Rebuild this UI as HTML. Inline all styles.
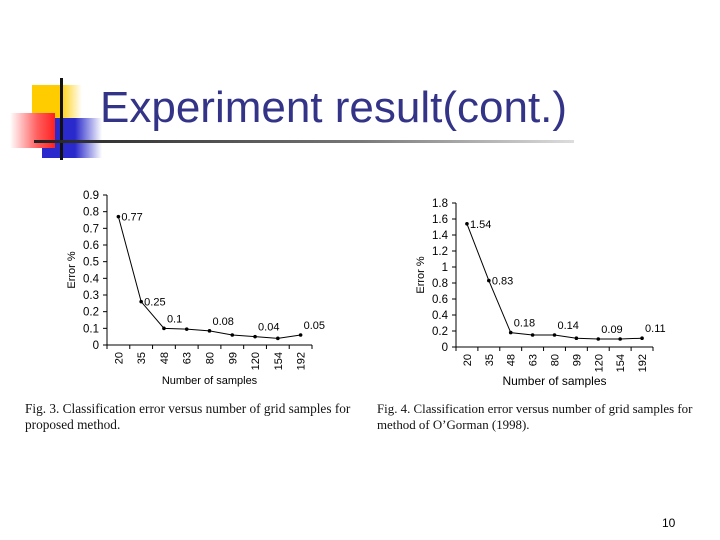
<!DOCTYPE html>
<html><head><meta charset="utf-8"><style>
body{margin:0;background:#fff;width:720px;height:540px;overflow:hidden;position:relative;font-family:"Liberation Sans",sans-serif}
.abs{position:absolute}
.cap{position:absolute;font-family:"Liberation Serif",serif;font-size:13.3px;line-height:16px;color:#111;white-space:nowrap}
</style></head><body>
<div class="abs" style="left:32px;top:85px;width:50px;height:33px;background:linear-gradient(90deg,#ffcc00 55%,#fff)"></div>
<div class="abs" style="left:42px;top:118px;width:60px;height:40px;background:linear-gradient(90deg,#2a2acc 55%,#fff)"></div>
<div class="abs" style="left:10px;top:113px;width:45px;height:35px;background:linear-gradient(90deg,#fff,#ff6060 60%,#ff2020)"></div>
<div class="abs" style="left:60px;top:78px;width:3px;height:82px;background:#111"></div>
<div class="abs" style="left:34px;top:140px;width:540px;height:3px;background:linear-gradient(90deg,#222,#777 60%,#ddd)"></div>
<div class="abs" style="left:100px;top:83px;font-size:44px;color:#333388;white-space:nowrap">Experiment result(cont.)</div>
<svg class="abs" style="left:0;top:0" width="720" height="540" id="svg"></svg>
<div class="cap" style="left:25px;top:401px">Fig. 3. Classification error versus number of grid samples for<br>proposed method.</div>
<div class="cap" style="left:377px;top:401px;font-size:12.9px">Fig. 4. Classification error versus number of grid samples for<br>method of O’Gorman (1998).</div>
<div class="abs" style="left:662px;top:516px;font-size:12px">10</div>
<script>
const categories=["20","35","48","63","80","99","120","154","192"];
const leftValues=[0.77,0.26,0.10,0.095,0.085,0.06,0.05,0.04,0.06];
const leftLabels=["0.77","0.25","0.1","","0.08","","0.04","","0.05"];
const leftTicks=[0,0.1,0.2,0.3,0.4,0.5,0.6,0.7,0.8,0.9];
const rightValues=[1.54,0.83,0.18,0.15,0.15,0.11,0.10,0.10,0.11];
const rightLabels=["1.54","0.83","0.18","","0.14","","0.09","","0.11"];
const rightTicks=[0,0.2,0.4,0.6,0.8,1,1.2,1.4,1.6,1.8];
const svg=document.getElementById('svg');
const NS="http://www.w3.org/2000/svg";
function mk(t,a,txt){const e=document.createElementNS(NS,t);for(const k in a)e.setAttribute(k,a[k]);if(txt!==undefined)e.textContent=txt;svg.appendChild(e);return e;}
function chart(o){
  const x0=o.x0,x1=o.x1,y0=o.y0,y1=o.y1,max=o.max,n=categories.length,bw=(x1-x0)/n;
  const X=i=>x0+bw*(i+0.5), Y=v=>y0-(y0-y1)*v/max;
  let a=mk('line',{x1:x0,y1:y0,x2:x0,y2:y1,stroke:'#000','stroke-width':1});
  
  a=mk('line',{x1:x0,y1:y0,x2:x1,y2:y0,stroke:'#000','stroke-width':1});
  
  o.ticks.forEach(t=>{const y=Y(t);
    let l=mk('line',{x1:x0-4,y1:y,x2:x0,y2:y,stroke:'#000'});
    
    let tx=mk('text',{x:x0-8,y:y+4,'text-anchor':'end','font-size':11.5},String(t));
    });
  for(let i=0;i<=n;i++){let l=mk('line',{x1:x0+bw*i,y1:y0,x2:x0+bw*i,y2:y0+4,stroke:'#000'});
    }
  categories.forEach((c,i)=>{let t=mk('text',{x:0,y:0,'text-anchor':'end','font-size':11,transform:`translate(${X(i)+4},${y0+7}) rotate(-90)`},c);
    });
  let d='';o.vals.forEach((v,i)=>{d+=(i?'L':'M')+X(i)+','+Y(v);});
  let p=mk('path',{d:d,fill:'none',stroke:'#000','stroke-width':1});
  
  o.vals.forEach((v,i)=>{let c=mk('circle',{cx:X(i),cy:Y(v),r:1.8,fill:'#000'});
    
    if(o.labels[i]){let t=mk('text',{x:X(i)+3,y:Y(v)-(i<2?-4:6),'font-size':11},o.labels[i]);
      }});
  let yt=mk('text',{x:0,y:0,'text-anchor':'middle','font-size':11,transform:`translate(${x0-32},${(y0+y1)/2}) rotate(-90)`},'Error %');
  
  let xt=mk('text',{x:(x0+x1)/2,y:o.xty,'text-anchor':'middle','font-size':o.xfs},'Number of samples');
  
}
chart({p:'left',x0:107,x1:312,y0:345,y1:195,max:0.9,ticks:leftTicks,vals:leftValues,labels:leftLabels,xty:384,xfs:11});
chart({p:'right',x0:456,x1:653,y0:347,y1:203,max:1.8,ticks:rightTicks,vals:rightValues,labels:rightLabels,xty:385,xfs:12});
</script>
</body></html>
